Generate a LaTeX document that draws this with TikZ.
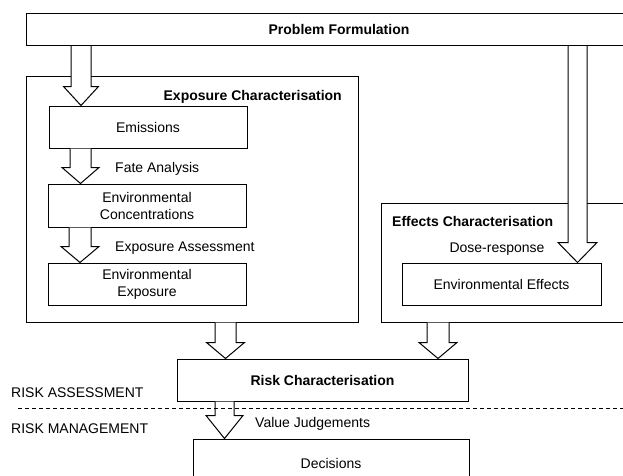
\documentclass[tikz,border=0pt]{standalone}
\usepackage{fontspec}
\setmainfont{Liberation Sans}
\usetikzlibrary{calc}
\tikzset{
  box/.style={draw, line width=1pt, fill=white, inner sep=0pt, align=center, font=\fontsize{14}{17}\selectfont},
  lbl/.style={inner sep=0pt, font=\fontsize{14}{17}\selectfont},
  blbl/.style={inner sep=0pt, font=\fontsize{14}{17}\selectfont\bfseries},
  barrow/.style={draw, line width=1pt, fill=white, line join=miter},
  divider/.style={line width=1pt, dash pattern=on 4pt off 3pt}
}
\newcommand{\blockarr}[5]{%
  \coordinate (bs) at (#2 |- #1);
  \draw[barrow] ($(bs)+(-#3,0)$) -- ($(#2)+(-#3,-#5)$) -- ($(#2)+(-#4,-#5)$) -- (#2)
    -- ($(#2)+(#4,-#5)$) -- ($(#2)+(#3,-#5)$) -- ($(bs)+(#3,0)$);}
\begin{document}
\begin{tikzpicture}[x=1pt,y=-1pt]
\useasboundingbox (0,0) rectangle (623,475);
\clip (0,0) rectangle (623,475);
% boxes
\node[box, minimum width=626pt, minimum height=32pt] (prob) at (339,29.5) {\bfseries Problem Formulation};
\node[box, minimum width=332pt, minimum height=246pt] (expc) at (192,199) {};
\node[blbl, anchor=east] (expct) at (342,97) {Exposure Characterisation};
\node[box, minimum width=198pt, minimum height=42pt] (emis) at (148,127) {Emissions};
\node[box, minimum width=198pt, minimum height=43pt] (conc) at (147,205.5) {Environmental\\Concentrations};
\node[box, minimum width=198pt, minimum height=42pt] (expo) at (147,284) {Environmental\\Exposure};
\node[box, minimum width=259pt, minimum height=119pt] (effc) at (510.5,262.5) {};
\node[blbl, anchor=west] (effct) at (392,221) {Effects Characterisation};
\node[box, minimum width=199pt, minimum height=42pt] (efft) at (501.5,284) {Environmental Effects};
\node[box, minimum width=291pt, minimum height=42pt] (risk) at (322.5,380) {\bfseries Risk Characterisation};
\node[box, minimum width=276pt, minimum height=48pt] (dec) at (331,463) {Decisions};
% labels
\node[lbl, anchor=west] (fate) at (115,169) {Fate Analysis};
\node[lbl, anchor=west] (expa) at (115,248) {Exposure Assessment};
\node[lbl] (dose) at (497,249) {Dose-response};
\node[lbl, anchor=west] (ra) at (11,393) {RISK ASSESSMENT};
\node[lbl, anchor=west] (rm) at (11,429) {RISK MANAGEMENT};
\node[lbl, anchor=west] (vj) at (255,424) {Value Judgements};
% block arrows
\coordinate (t1) at ([xshift=-67pt]emis.north);
\coordinate (t2) at ([xshift=-66.5pt]conc.north);
\coordinate (t3) at ([xshift=-67pt]expo.north);
\coordinate (t4) at ([xshift=76pt]efft.north);
\coordinate (t5) at ([xshift=-97pt]risk.north);
\coordinate (t6) at ([xshift=115.5pt]risk.north);
\coordinate (t7) at ([xshift=-106.5pt]dec.north);
\blockarr{prob.south}{t1}{10}{17.5}{19}
\blockarr{emis.south}{t2}{10.5}{18.5}{16}
\blockarr{conc.south}{t3}{11}{19}{16}
\blockarr{prob.south}{t4}{9.5}{19.5}{20}
\blockarr{expc.south}{t5}{10.5}{19}{16}
\blockarr{effc.south}{t6}{11}{19}{16}
\blockarr{risk.south}{t7}{9.5}{18.5}{23}
% divider
\coordinate (dl) at (18,408);
\coordinate (dr) at (623,408);
\draw[divider] (dl) -- (dr);
\end{tikzpicture}
\end{document}
